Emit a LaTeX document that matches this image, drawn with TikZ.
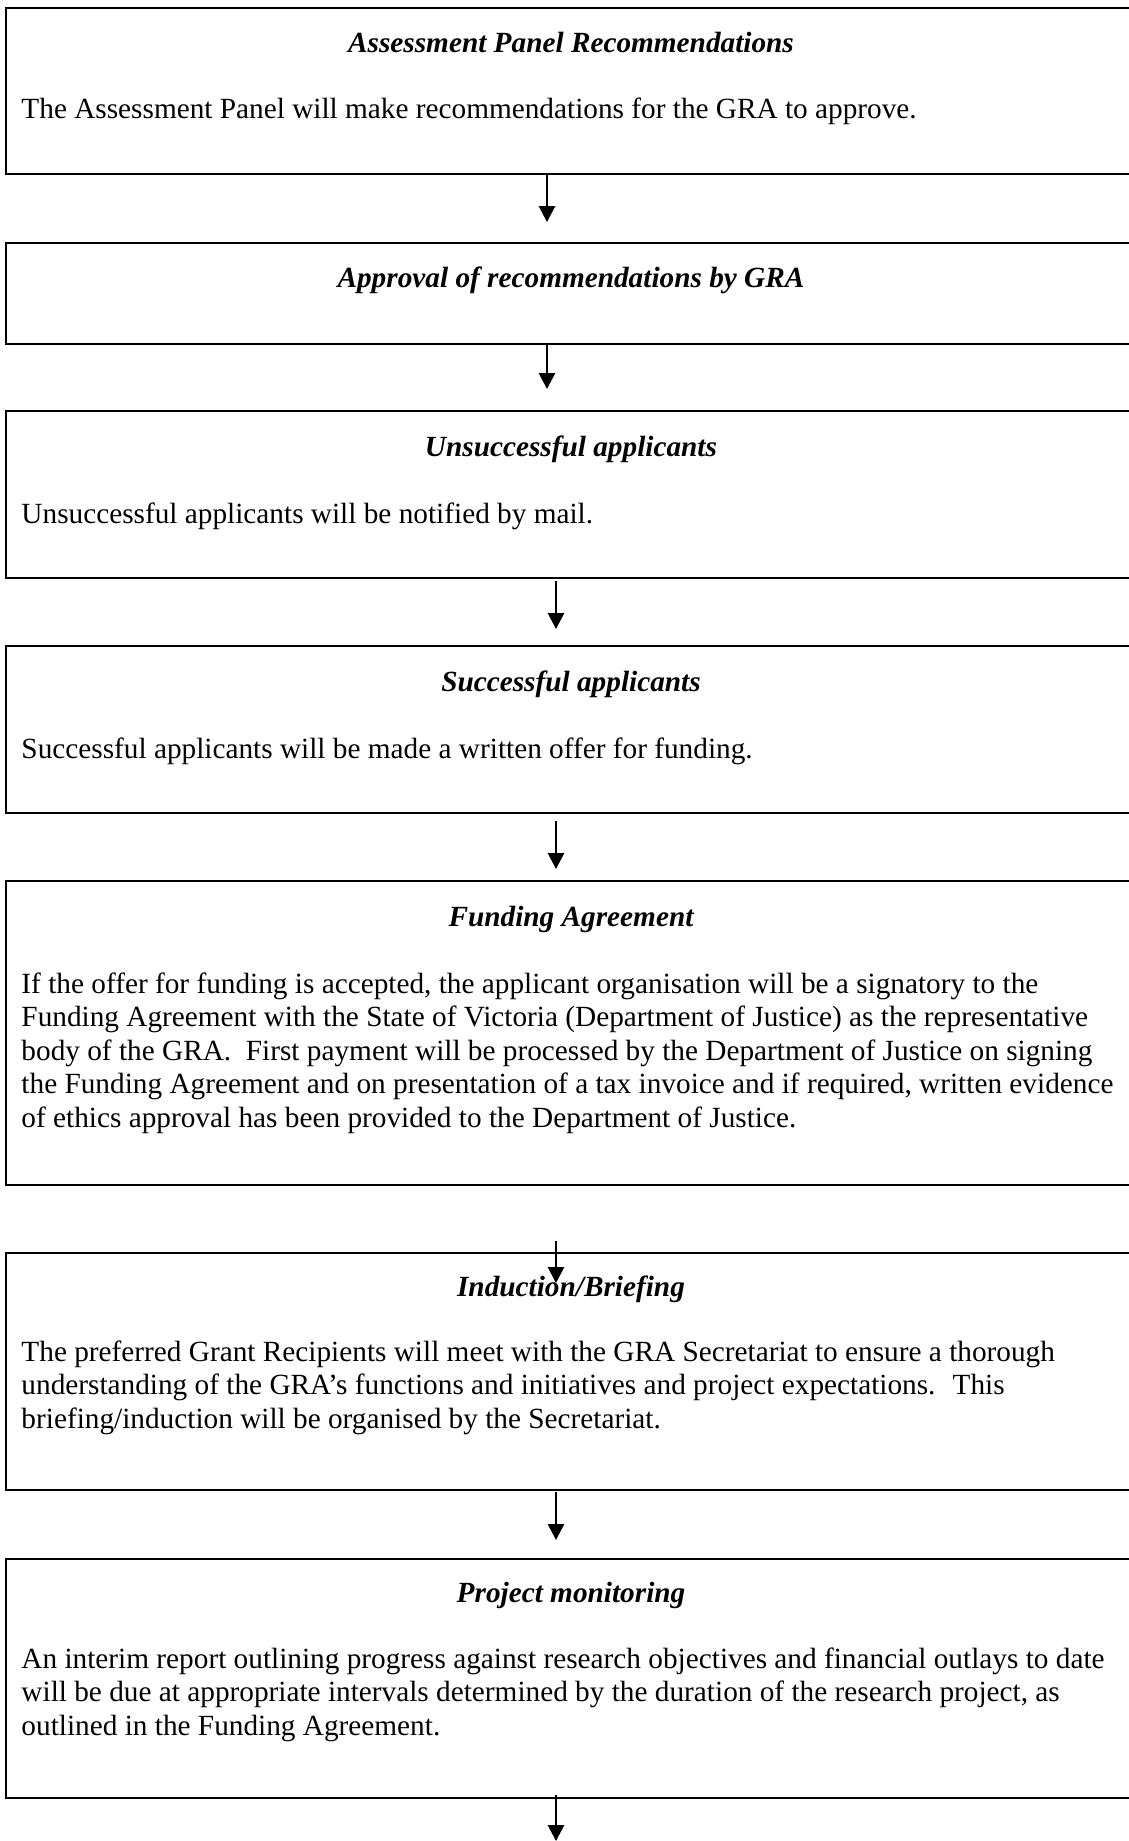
\documentclass[tikz,border=0pt]{standalone}
\usepackage{fontspec}
\setmainfont{Liberation Serif}
\usetikzlibrary{arrows.meta}
\def\px{0.41667pt}
\tikzset{
  box/.style={draw, line width=0.95pt, anchor=north west, inner sep=0pt, minimum width=1140*\px},
  ttl/.style={anchor=base, inner sep=0pt, font=\fontsize{12.2pt}{13.9pt}\selectfont\bfseries\itshape},
  body/.style={anchor=base west, align=left, inner sep=0pt, font=\fontsize{12.2pt}{13.9pt}\selectfont},
  flow/.style={line width=0.85pt, -{Triangle[width=6.7pt,length=6.6pt]}},
}
\begin{document}
\begin{tikzpicture}[x=0.41667pt, y=-0.41667pt]
\useasboundingbox (0,0) rectangle (1129,1841);
% boxes
\node[box, minimum height=166*\px] (b1) at (5,7) {};
\node[box, minimum height=101*\px] (b2) at (5,242) {};
\node[box, minimum height=167*\px] (b3) at (5,410) {};
\node[box, minimum height=167*\px] (b4) at (5,645) {};
\node[box, minimum height=304*\px] (b5) at (5,880) {};
\node[box, minimum height=237*\px] (b6) at (5,1252) {};
\node[box, minimum height=239*\px] (b7) at (5,1558) {};
% titles
\node[ttl] (t1) at (571,52) {Assessment Panel Recommendations};
\node[ttl] (t2) at (571,287) {Approval of recommendations by GRA};
\node[ttl] (t3) at (571,456) {Unsuccessful applicants};
\node[ttl] (t4) at (571,691) {Successful applicants};
\node[ttl] (t5) at (571,926) {Funding Agreement};
\node[ttl] (t6) at (571,1296) {Induction/Briefing};
\node[ttl] (t7) at (571,1602) {Project monitoring};
% bodies (multi-line nodes are placed by the baseline of their last line)
\node[body] (d1) at (21,118) {The Assessment Panel will make recommendations for the GRA to approve.};
\node[body] (d3) at (21,523) {Unsuccessful applicants will be notified by mail.};
\node[body] (d4) at (21,758) {Successful applicants will be made a written offer for funding.};
\node[body] (d5) at (21,1127) {If the offer for funding is accepted, the applicant organisation will be a signatory to the\\
Funding Agreement with the State of Victoria (Department of Justice) as the representative\\
body of the GRA.~ First payment will be processed by the Department of Justice on signing\\
the Funding Agreement and on presentation of a tax invoice and if required, written evidence\\
of ethics approval has been provided to the Department of Justice.};
\node[body] (d6) at (21,1428) {The preferred Grant Recipients will meet with the GRA Secretariat to ensure a thorough\\
understanding of the GRA’s functions and initiatives and project expectations.~ This\\
briefing/induction will be organised by the Secretariat.};
\node[body] (d7) at (21,1735) {An interim report outlining progress against research objectives and financial outlays to date\\
will be due at appropriate intervals determined by the duration of the research project, as\\
outlined in the Funding Agreement.};
% arrow ends
\coordinate (s1) at (547,173);  \coordinate (e1) at (547,222);
\coordinate (s2) at (547,343);  \coordinate (e2) at (547,389);
\coordinate (s3) at (556,581);  \coordinate (e3) at (556,629);
\coordinate (s4) at (556,821);  \coordinate (e4) at (556,869);
\coordinate (s5) at (556,1241); \coordinate (e5) at (556,1283);
\coordinate (s6) at (556,1492); \coordinate (e6) at (556,1540);
\coordinate (s7) at (556,1795); \coordinate (e7) at (556,1841);
\foreach \i in {1,...,7} { \draw[flow] (s\i) -- (e\i); }
\end{tikzpicture}
\end{document}
